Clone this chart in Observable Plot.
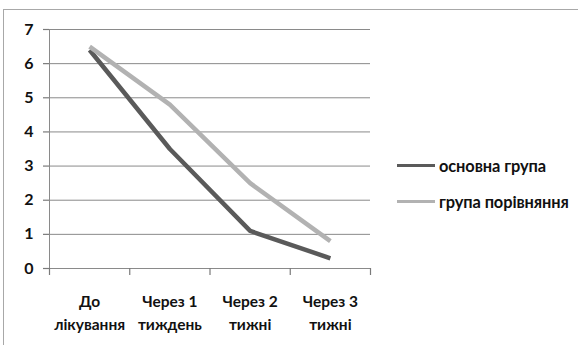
<!DOCTYPE html>
<html>
<head>
<meta charset="utf-8">
<script src="https://cdn.jsdelivr.net/npm/d3@7"></script>
<script src="https://cdn.jsdelivr.net/npm/@observablehq/plot@0.6"></script>
<style>
  html, body { margin: 0; padding: 0; background: #fff; }
  #wrap { position: relative; width: 578px; height: 345px; overflow: hidden; }
  #frame { position: absolute; left: 3px; top: 9px; width: 700px; height: 400px;
           border-top: 1.5px solid #a8a8a8; border-left: 1.5px solid #a8a8a8; }
  #chart { position: absolute; left: 0; top: 0; }
  #legend { position: absolute; left: 397px; top: 155px; font-family: Lato, sans-serif;
            font-weight: 700; font-size: 16.4px; color: #111; letter-spacing: -0.1px; }
  .item { display: flex; align-items: center; height: 20px; margin-bottom: 16px; }
  .sw { width: 38px; height: 3px; margin-right: 4px; }
</style>
</head>
<body>
<div id="wrap">
  <div id="frame"></div>
  <div id="chart"></div>
  <div id="legend"></div>
</div>
<script>
const categories = ["До\nлікування", "Через 1\nтиждень", "Через 2\nтижні", "Через 3\nтижні"];
const seriesNames = ["основна група", "група порівняння"];
const mainGroup = [6.4, 3.5, 1.1, 0.3];
const comparisonGroup = [6.5, 4.8, 2.5, 0.8];
const yTicks = [0, 1, 2, 3, 4, 5, 6, 7];
const colors = ["#5a5a5a", "#b2b2b2"];

const rows = [];
[mainGroup, comparisonGroup].forEach((vals, s) => {
  vals.forEach((v, i) => rows.push({series: seriesNames[s], idx: i, value: v}));
});
const boundaries = d3.range(categories.length + 1).map(i => i - 0.5);

const W = 578, H = 345, mT = 29, mB = 77, mL = 49, mR = 208;
const yMax = 7;
const tickLen = 7 * yMax / (H - mT - mB); // 7px expressed in y units

const chart = Plot.plot({
  width: W,
  height: H,
  marginLeft: mL,
  marginRight: mR,
  marginTop: mT,
  marginBottom: mB,
  style: {fontFamily: "Lato, sans-serif", fontSize: "14px", fontWeight: 700, color: "#111", background: "transparent", overflow: "visible"},
  x: {type: "linear", domain: [-0.5, categories.length - 0.5], label: null},
  y: {type: "linear", domain: [0, yMax], label: null},
  color: {domain: seriesNames, range: colors},
  marks: [
    Plot.gridY({ticks: yTicks, stroke: "#8a8a8a", strokeOpacity: 1, strokeWidth: 1}),
    Plot.ruleX([-0.5], {stroke: "#8a8a8a"}),
    Plot.ruleX(boundaries, {x: d => d, y1: 0, y2: -tickLen, stroke: "#7a7a7a", strokeWidth: 1.2, clip: false}),
    Plot.axisY({ticks: yTicks, tickSize: 6, tickPadding: 10, tickFormat: d3.format("d"), stroke: "#7a7a7a", strokeWidth: 1.2, fontSize: 16, fontWeight: 700, fill: "#111", label: null}),
    Plot.axisX({ticks: d3.range(categories.length), tickSize: 0, tickPadding: 23, tickFormat: i => categories[i], lineHeight: 1.45, fontSize: 15.5, fontWeight: 700, fill: "#111", label: null}),
    Plot.line(rows, {x: "idx", y: "value", z: "series", stroke: "series", strokeWidth: 4.5, strokeLinejoin: "round", strokeLinecap: "butt"})
  ]
});
document.getElementById("chart").appendChild(chart);

const legend = document.getElementById("legend");
seriesNames.forEach((name, s) => {
  const item = document.createElement("div");
  item.className = "item";
  const sw = document.createElement("div");
  sw.className = "sw";
  sw.style.background = colors[s];
  const label = document.createElement("span");
  label.textContent = name;
  item.appendChild(sw);
  item.appendChild(label);
  legend.appendChild(item);
});
</script>
</body>
</html>
